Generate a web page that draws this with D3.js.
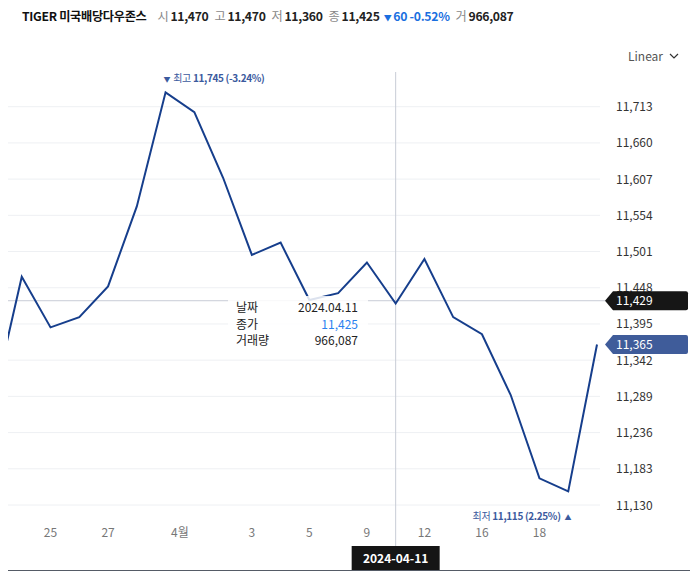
<!DOCTYPE html>
<html>
<head>
<meta charset="utf-8">
<script src="https://cdn.jsdelivr.net/npm/d3@7"></script>
<style>
  body { margin: 0; background: #fff; }
  svg { display: block; font-family: "Noto Sans CJK KR", "Noto Sans", sans-serif; }
</style>
</head>
<body>
<div id="chart"></div>
<script>
// trading days shown (Mar 21 is partly off the left edge)
const dates = ["2024-03-21", "2024-03-22", "2024-03-25", "2024-03-26", "2024-03-27", "2024-03-28",
  "2024-03-29", "2024-04-01", "2024-04-02", "2024-04-03", "2024-04-04", "2024-04-05",
  "2024-04-08", "2024-04-09", "2024-04-11", "2024-04-12", "2024-04-15", "2024-04-16",
  "2024-04-17", "2024-04-18", "2024-04-19", "2024-04-22"];
const closes = [11280, 11464, 11390, 11405, 11450, 11567, 11734, 11705, 11609, 11496, 11514, 11430,
  11440, 11485, 11425, 11490, 11405, 11380, 11291, 11169, 11150, 11365];

const yTicks = [11130, 11183, 11236, 11289, 11342, 11395, 11448, 11501, 11554, 11607, 11660, 11713];
const xTicks = [
  {date: "2024-03-25", label: "25"}, {date: "2024-03-27", label: "27"},
  {date: "2024-04-01", label: "4월", month: true}, {date: "2024-04-03", label: "3"},
  {date: "2024-04-05", label: "5"}, {date: "2024-04-09", label: "9"},
  {date: "2024-04-12", label: "12"}, {date: "2024-04-16", label: "16"},
  {date: "2024-04-18", label: "18"}
];

const hoverDate = "2024-04-11";
const hoverLevel = 11429;
const lastClose = 11365;
const high = {date: "2024-03-29", value: 11745, pct: "-3.24%"};
const low = {date: "2024-04-19", value: 11115, pct: "2.25%"};
const header = [
  {t: "시", v: "11,470"}, {t: "고", v: "11,470"}, {t: "저", v: "11,360"}, {t: "종", v: "11,425"}
];
const tooltipRows = [["날짜", "2024.04.11"], ["종가", "11,425"], ["거래량", "966,087"]];

const W = 697, H = 583;
const plot = {left: 8, right: 605, top: 60, bottom: 545};
const lineColor = "#163e8c";
const fmt = d3.format(",");

const svg = d3.select("#chart").append("svg").attr("width", W).attr("height", H);

const x = d3.scalePoint().domain(dates).range([-7, 597]);
const y = d3.scaleLinear().domain([11130, 11713]).range([505, 106.7]);

// header
const head = svg.append("text").attr("x", 22).attr("y", 21).attr("font-size", 12.2)
  .attr("letter-spacing", -0.3);
head.append("tspan").attr("font-weight", "bold").attr("fill", "#111").text("TIGER 미국배당다우존스");
header.forEach((h, i) => {
  head.append("tspan").attr("dx", i == 0 ? 11 : 6).attr("fill", "#888").text(h.t);
  head.append("tspan").attr("dx", 2).attr("font-weight", "bold").attr("fill", "#222").text(h.v);
});
head.append("tspan").attr("dx", 4).attr("fill", "#1a6fe0").attr("font-size", 8).text("▼");
head.append("tspan").attr("dx", 2).attr("fill", "#1a6fe0").attr("font-weight", "bold").text("60 -0.52%");
head.append("tspan").attr("dx", 6).attr("fill", "#888").text("거");
head.append("tspan").attr("dx", 2).attr("font-weight", "bold").attr("fill", "#222").text("966,087");

// Linear selector
svg.append("text").attr("x", 628).attr("y", 61).attr("font-size", 12).attr("fill", "#555").text("Linear");
svg.append("path").attr("d", "M670,54 l4,4 l4,-4").attr("fill", "none").attr("stroke", "#333").attr("stroke-width", 1.2);

// grid
svg.append("g").selectAll("line").data(yTicks).join("line")
  .attr("x1", plot.left).attr("x2", 600)
  .attr("y1", d => y(d)).attr("y2", d => y(d))
  .attr("stroke", "#eef0f3").attr("stroke-width", 1);

// y tick labels
svg.append("g").selectAll("text").data(yTicks).join("text")
  .attr("x", 616).attr("y", d => y(d) + 4.5)
  .attr("font-size", 12).attr("fill", "#333")
  .text(d => fmt(d));

// x tick labels
svg.append("g").selectAll("text").data(xTicks).join("text")
  .attr("x", d => {
    if (d.month) {
      const i = dates.indexOf(d.date);
      return (x(dates[i - 1]) + x(d.date)) / 2;
    }
    return x(d.date);
  })
  .attr("y", 537).attr("text-anchor", "middle")
  .attr("font-size", 12).attr("fill", "#777")
  .text(d => d.label);

// crosshair
svg.append("line").attr("x1", x(hoverDate)).attr("x2", x(hoverDate))
  .attr("y1", 72).attr("y2", 546).attr("stroke", "#c8ccd6").attr("stroke-width", 1);
svg.append("line").attr("x1", plot.left).attr("x2", plot.right)
  .attr("y1", y(hoverLevel)).attr("y2", y(hoverLevel)).attr("stroke", "#c8ccd6").attr("stroke-width", 1);

// line
svg.append("clipPath").attr("id", "clip").append("rect")
  .attr("x", plot.left).attr("y", plot.top).attr("width", plot.right - plot.left).attr("height", plot.bottom - plot.top);
const line = d3.line().x((d, i) => x(dates[i])).y(d => y(d));
svg.append("path").datum(closes)
  .attr("clip-path", "url(#clip)")
  .attr("d", line).attr("fill", "none")
  .attr("stroke", lineColor).attr("stroke-width", 2).attr("stroke-linejoin", "miter");

// high / low labels
const hl = svg.append("text").attr("x", x(high.date) - 2).attr("y", 82).attr("font-size", 10)
  .attr("letter-spacing", -0.35).attr("fill", "#3b5a9e");
hl.append("tspan").attr("font-size", 7).text("▼");
hl.append("tspan").attr("dx", 3).text("최고");
hl.append("tspan").attr("dx", 2).attr("font-weight", "bold").text(fmt(high.value) + " (" + high.pct + ")");

const ll = svg.append("text").attr("x", x(low.date) + 3).attr("y", 520).attr("font-size", 10)
  .attr("letter-spacing", -0.35).attr("fill", "#3b5a9e").attr("text-anchor", "end");
ll.append("tspan").text("최저");
ll.append("tspan").attr("dx", 2).attr("font-weight", "bold").text(fmt(low.value) + " (" + low.pct + ")");
ll.append("tspan").attr("dx", 4).attr("font-size", 7).text("▲");

// tooltip
const tip = svg.append("g");
tip.append("rect").attr("x", 228).attr("y", 296).attr("width", 140).attr("height", 56)
  .attr("fill", "#fff").attr("fill-opacity", 0.85);
tooltipRows.forEach((r, i) => {
  tip.append("text").attr("x", 236).attr("y", 312 + i * 16.5).attr("font-size", 12).attr("fill", "#222").text(r[0]);
  tip.append("text").attr("x", 358).attr("y", 312 + i * 16.5).attr("font-size", 12).attr("text-anchor", "end")
    .attr("fill", i == 1 ? "#2a82f0" : "#222").text(r[1]);
});

// right badges
function badge(v, fill) {
  const cy = y(v);
  svg.append("path")
    .attr("d", `M605,${cy} L613,${cy - 9.5} L686,${cy - 9.5} Q688,${cy - 9.5} 688,${cy - 7.5} L688,${cy + 7.5} Q688,${cy + 9.5} 686,${cy + 9.5} L613,${cy + 9.5} Z`)
    .attr("fill", fill);
  svg.append("text").attr("x", 616).attr("y", cy + 4.5).attr("font-size", 12).attr("fill", "#fff").text(fmt(v));
}
badge(hoverLevel, "#161616");
badge(lastClose, "#3f5c9a");

// bottom date box and axis line
svg.append("rect").attr("x", x(hoverDate) - 44).attr("y", 546).attr("width", 88).attr("height", 24).attr("fill", "#151515");
svg.append("text").attr("x", x(hoverDate)).attr("y", 562.5).attr("text-anchor", "middle")
  .attr("font-size", 12).attr("font-weight", "bold").attr("fill", "#fff").text(hoverDate);
svg.append("line").attr("x1", 8).attr("x2", 690).attr("y1", 570.5).attr("y2", 570.5)
  .attr("stroke", "#555b66").attr("stroke-width", 1.2);
</script>
</body>
</html>
